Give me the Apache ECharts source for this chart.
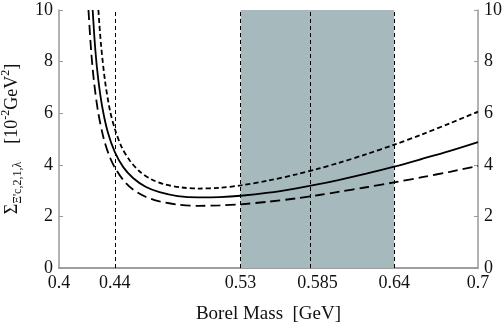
<!DOCTYPE html>
<html>
<head>
<meta charset="utf-8">
<script src="https://cdn.jsdelivr.net/npm/echarts@6/dist/echarts.min.js"></script>
<style>
  html, body { margin: 0; padding: 0; background: #fff; }
  #main { width: 502px; height: 327px; }
</style>
</head>
<body>
<div id="main"></div>
<script>
// central curve (solid)
var midX = [0.4241, 0.426, 0.428, 0.431, 0.435, 0.44, 0.446, 0.453, 0.462, 0.472, 0.485, 0.5, 0.515, 0.53, 0.55, 0.57, 0.585, 0.6, 0.62, 0.64, 0.66, 0.68, 0.7];
var midY = [10, 8.46, 7.36, 6.23, 5.25, 4.49, 3.91, 3.49, 3.15, 2.94, 2.79, 2.74, 2.75, 2.8, 2.92, 3.09, 3.24, 3.41, 3.66, 3.93, 4.23, 4.54, 4.88];
// upper curve (short dashes)
var upX = [0.4282, 0.43, 0.433, 0.4365, 0.44, 0.445, 0.451, 0.458, 0.466, 0.475, 0.488, 0.5, 0.515, 0.53, 0.55, 0.57, 0.585, 0.6, 0.62, 0.64, 0.66, 0.68, 0.7];
var upY = [10, 8.7, 7.23, 6.1, 5.39, 4.67, 4.14, 3.73, 3.44, 3.25, 3.12, 3.08, 3.11, 3.2, 3.39, 3.63, 3.84, 4.07, 4.41, 4.78, 5.18, 5.61, 6.06];
// lower curve (long dashes)
var lowX = [0.4211, 0.423, 0.425, 0.428, 0.432, 0.436, 0.44, 0.446, 0.453, 0.462, 0.472, 0.485, 0.5, 0.515, 0.53, 0.55, 0.57, 0.585, 0.6, 0.62, 0.64, 0.66, 0.68, 0.7];
var lowY = [10, 8.42, 7.25, 6.05, 5.02, 4.35, 3.89, 3.41, 3.04, 2.76, 2.58, 2.46, 2.41, 2.43, 2.47, 2.57, 2.7, 2.82, 2.95, 3.13, 3.32, 3.52, 3.73, 3.95];

var xTicks = [0.4, 0.44, 0.53, 0.585, 0.64, 0.7];
var vLines = [0.44, 0.53, 0.585, 0.64];
var band = [0.53, 0.64];

function pairs(xs, ys) {
    return xs.map(function (x, i) { return [x, ys[i]]; });
}

var myChart = echarts.init(document.getElementById('main'));
var font = 'Liberation Serif';
var frame = { lineStyle: { color: '#999', width: 1.5 } };

var option = {
    animation: false,
    grid: { left: 59, right: 24, top: 10, bottom: 59, outerBoundsMode: 'none' },
    xAxis: [{
        type: 'value', min: 0.4, max: 0.7,
        name: 'Borel Mass  [GeV]', nameLocation: 'middle', nameGap: 37,
        nameTextStyle: { fontFamily: font, fontSize: 19, color: '#111' },
        axisLine: frame, axisTick: { show: false }, splitLine: { show: false },
        axisLabel: {
            customValues: xTicks, margin: 6,
            fontFamily: font, fontSize: 18, color: '#111',
            formatter: function (v) { return String(v); }
        }
    }, {
        type: 'value', min: 0.4, max: 0.7, position: 'top',
        axisLine: frame, axisTick: { show: false }, axisLabel: { show: false }, splitLine: { show: false }
    }],
    yAxis: [{
        type: 'value', min: 0, max: 10, interval: 2,
        name: '{b|Σ}{s|Ξ\'c,2,1,λ}{b|    [10}{p|-2}{b|GeV}{p|2}{b|]}',
        nameLocation: 'middle', nameGap: 33, nameRotate: 90,
        nameTextStyle: {
            fontFamily: font, color: '#111',
            rich: {
                b: { fontFamily: font, fontSize: 18, color: '#111', lineHeight: 24 },
                s: { fontFamily: font, fontSize: 12, color: '#111', verticalAlign: 'bottom', padding: [8, 0, 0, 0] },
                p: { fontFamily: font, fontSize: 12, color: '#111', verticalAlign: 'top', padding: [0, 0, 8, 0] }
            }
        },
        axisLine: frame, splitLine: { show: false },
        axisTick: { inside: true, length: 4, lineStyle: { color: '#999' } },
        axisLabel: { margin: 6, fontFamily: font, fontSize: 18, color: '#111' }
    }, {
        type: 'value', min: 0, max: 10, interval: 2, position: 'right',
        axisLine: frame, splitLine: { show: false },
        axisTick: { inside: true, length: 4, lineStyle: { color: '#999' } },
        axisLabel: { margin: 6, fontFamily: font, fontSize: 18, color: '#111' }
    }],
    series: [
        {
            type: 'line', data: pairs(midX, midY), smooth: 0.3, symbol: 'none', z: 5,
            lineStyle: { color: '#000', width: 1.8 },
            markArea: {
                silent: true,
                itemStyle: { color: '#a6b9bc' },
                data: [[{ xAxis: band[0] }, { xAxis: band[1] }]]
            },
            markLine: {
                silent: true, symbol: 'none', label: { show: false },
                lineStyle: { color: '#000', width: 1, type: [4, 3] },
                data: vLines.map(function (v) { return { xAxis: v }; })
            }
        },
        {
            type: 'line', data: pairs(upX, upY), smooth: 0.3, symbol: 'none', z: 5,
            lineStyle: { color: '#000', width: 1.8, type: [5, 3] }
        },
        {
            type: 'line', data: pairs(lowX, lowY), smooth: 0.3, symbol: 'none', z: 5,
            lineStyle: { color: '#000', width: 1.8, type: [10, 5] }
        }
    ]
};

option && myChart.setOption(option);
</script>
</body>
</html>
